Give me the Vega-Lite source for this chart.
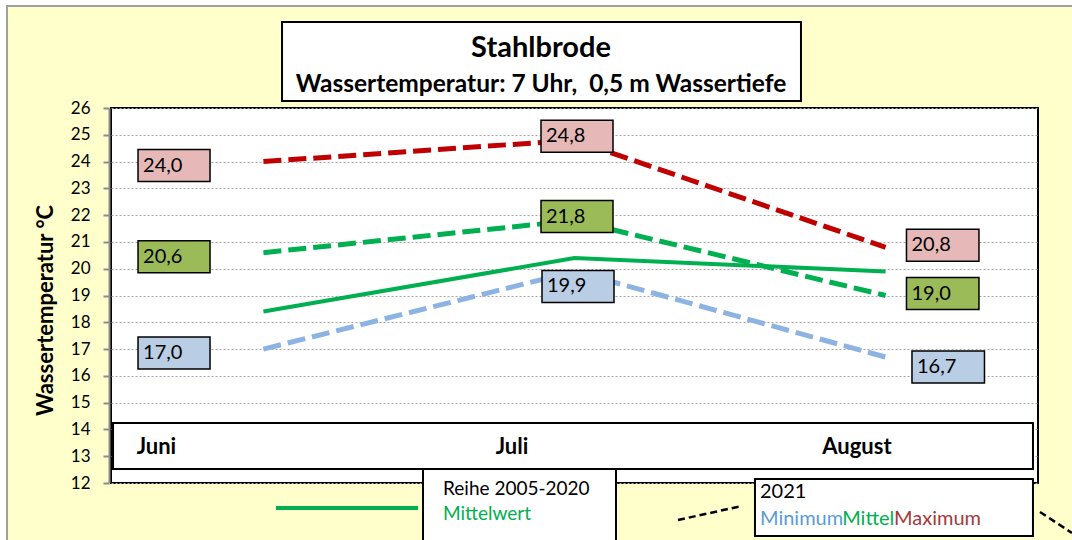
{
  "$schema": "https://vega.github.io/schema/vega-lite/v6.json",
  "width": 927,
  "height": 375,
  "autosize": {"type": "none"},
  "padding": {"left": 111, "top": 108, "right": 34, "bottom": 57},
  "background": "#FFFFCC",
  "resolve": {"axis": {"y": "independent", "x": "independent"}},
  "config": {
    "font": "Lato",
    "view": {"fill": "white", "stroke": "black", "strokeWidth": 2},
    "axisY": {
      "tickCount": 20,
      "format": "d",
      "grid": true, "gridColor": "#A6A6A6", "gridDash": [2, 2], "gridWidth": 1,
      "domainColor": "#8C8C8C", "domainWidth": 2,
      "tickColor": "#8C8C8C", "tickWidth": 2, "tickSize": 6,
      "labelFontSize": 17, "labelColor": "black", "labelPadding": 13, "labelOverlap": false,
      "titleFontSize": 22, "titleFontWeight": "bold", "titleColor": "black"
    },
    "locale": {"number": {"decimal": ",", "thousands": ".", "grouping": [3], "currency": ["", " €"]}}
  },
  "datasets": {
    "t": [
      {"month": "Juni", "series": "Reihe", "value": 18.4},
      {"month": "Juli", "series": "Reihe", "value": 20.4},
      {"month": "August", "series": "Reihe", "value": 19.9},
      {"month": "Juni", "series": "Maximum", "value": 24.0},
      {"month": "Juli", "series": "Maximum", "value": 24.8},
      {"month": "August", "series": "Maximum", "value": 20.8},
      {"month": "Juni", "series": "Mittel", "value": 20.6},
      {"month": "Juli", "series": "Mittel", "value": 21.8},
      {"month": "August", "series": "Mittel", "value": 19.0},
      {"month": "Juni", "series": "Minimum", "value": 17.0},
      {"month": "Juli", "series": "Minimum", "value": 19.9},
      {"month": "August", "series": "Minimum", "value": 16.7}
    ]
  },
  "layer": [
    {
      "data": {"name": "t"},
      "transform": [{"filter": "datum.series == 'Reihe'"}],
      "mark": {"type": "line", "stroke": "#00B050", "strokeWidth": 4},
      "encoding": {
        "x": {"field": "month", "type": "ordinal", "sort": ["Juni", "Juli", "August"], "scale": {"type": "point", "domain": ["Juni", "Juli", "August"], "padding": 0.49, "round": false}, "axis": null},
        "y": {
          "field": "value", "type": "quantitative",
          "scale": {"domain": [12, 26], "nice": false, "zero": false},
          "axis": {
            "title": "Wassertemperatur °C",
            "values": [12, 13, 14, 15, 16, 17, 18, 19, 20, 21, 22, 23, 24, 25, 26],
            "tickCount": 20,
            "offset": 2,
            "titleAngle": 270, "titleX": -64, "titleY": 202, "titleAlign": "center", "titleBaseline": "middle"
          }
        }
      }
    },
    {
      "data": {"values": [{}]},
      "mark": {"type": "rect", "fill": "white", "xOffset": -270, "x2Offset": -256.4},
      "encoding": {
        "x": {"datum": "Juni", "type": "ordinal", "axis": null},
        "x2": {"datum": "Juni"},
        "y": {"datum": 31, "type": "quantitative", "axis": null},
        "y2": {"datum": 8}
      }
    },
    {
      "data": {"values": [{}]},
      "mark": {"type": "rect", "fill": "white", "xOffset": -270, "x2Offset": 220},
      "encoding": {
        "x": {"datum": "Juni", "type": "ordinal", "axis": null},
        "x2": {"datum": "August"},
        "y": {"datum": 31, "type": "quantitative", "axis": null},
        "y2": {"datum": 29.808}
      }
    },
    {
      "data": {"values": [{}]},
      "mark": {"type": "rect", "fill": "transparent", "stroke": "#A0A0A0", "strokeWidth": 2, "xOffset": -256.4, "x2Offset": 220},
      "encoding": {
        "x": {"datum": "Juni", "type": "ordinal", "axis": null},
        "x2": {"datum": "August"},
        "y": {"datum": 29.808, "type": "quantitative", "axis": null},
        "y2": {"datum": 8}
      }
    },
    {
      "data": {"values": [{}]},
      "mark": {"type": "rect", "fill": "white", "stroke": "black", "strokeWidth": 2, "xOffset": 18.6, "x2Offset": -84.6},
      "encoding": {
        "x": {"datum": "Juni", "type": "ordinal", "axis": null},
        "x2": {"datum": "August"},
        "y": {"datum": 29.211, "type": "quantitative", "axis": null},
        "y2": {"datum": 26.261}
      }
    },
    {
      "data": {"values": [{}]},
      "mark": {"type": "text", "text": "Stahlbrode", "fontSize": 29, "fontWeight": "bold", "align": "center", "baseline": "alphabetic", "dx": -33.5, "color": "black"},
      "encoding": {
        "x": {"datum": "Juli", "type": "ordinal", "axis": null},
        "y": {"datum": 27.904, "type": "quantitative", "axis": null}
      }
    },
    {
      "data": {"values": [{}]},
      "mark": {"type": "text", "text": "Wassertemperatur: 7 Uhr, \u00a00,5 m Wassertiefe", "fontSize": 24.5, "fontWeight": "bold", "align": "center", "baseline": "alphabetic", "dx": -33.5, "color": "black"},
      "encoding": {
        "x": {"datum": "Juli", "type": "ordinal", "axis": null},
        "y": {"datum": 26.597, "type": "quantitative", "axis": null}
      }
    },
    {
      "data": {"name": "t"},
      "transform": [{"filter": "datum.series != 'Reihe'"}],
      "mark": {"type": "line", "strokeWidth": 5, "strokeDash": [18, 7]},
      "encoding": {
        "x": {"field": "month", "type": "ordinal", "sort": ["Juni", "Juli", "August"], "axis": null},
        "y": {"field": "value", "type": "quantitative", "axis": null},
        "stroke": {"field": "series", "type": "nominal", "scale": {"domain": ["Maximum", "Mittel", "Minimum"], "range": ["#C00000", "#00B050", "#8DB3E2"]}, "legend": null}
      }
    },
    {
      "data": {"values": [{}]},
      "mark": {"type": "rect", "fill": "white", "stroke": "black", "strokeWidth": 2, "xOffset": -150.4, "x2Offset": 147.4},
      "encoding": {
        "x": {"datum": "Juni", "type": "ordinal", "axis": null},
        "x2": {"datum": "August"},
        "y": {"datum": 14.24, "type": "quantitative", "axis": null},
        "y2": {"datum": 12.523}
      }
    },
    {
      "data": {"values": [{}]},
      "mark": {"type": "text", "text": "Juni", "fontSize": 22, "fontWeight": "bold", "align": "center", "baseline": "middle", "dx": -107, "color": "black"},
      "encoding": {
        "x": {"datum": "Juni", "type": "ordinal", "axis": null},
        "y": {"datum": 13.344, "type": "quantitative", "axis": null}
      }
    },
    {
      "data": {"values": [{}]},
      "mark": {"type": "text", "text": "Juli", "fontSize": 22, "fontWeight": "bold", "align": "center", "baseline": "middle", "dx": -62.5, "color": "black"},
      "encoding": {
        "x": {"datum": "Juli", "type": "ordinal", "axis": null},
        "y": {"datum": 13.344, "type": "quantitative", "axis": null}
      }
    },
    {
      "data": {"values": [{}]},
      "mark": {"type": "text", "text": "August", "fontSize": 22, "fontWeight": "bold", "align": "center", "baseline": "middle", "dx": -28.6, "color": "black"},
      "encoding": {
        "x": {"datum": "August", "type": "ordinal", "axis": null},
        "y": {"datum": 13.344, "type": "quantitative", "axis": null}
      }
    },
    {
      "data": {"values": [{}]},
      "mark": {"type": "rect", "fill": "white", "stroke": "black", "strokeWidth": 2, "xOffset": -151.5, "x2Offset": 41.5},
      "encoding": {
        "x": {"datum": "Juli", "type": "ordinal", "axis": null},
        "x2": {"datum": "Juli"},
        "y": {"datum": 12.523, "type": "quantitative", "axis": null},
        "y2": {"datum": 8}
      }
    },
    {
      "data": {"values": [{}]},
      "mark": {"type": "text", "text": "Reihe 2005-2020", "fontSize": 19, "align": "left", "baseline": "alphabetic", "dx": -131.5, "color": "black"},
      "encoding": {
        "x": {"datum": "Juli", "type": "ordinal", "axis": null},
        "y": {"datum": 11.552, "type": "quantitative", "axis": null}
      }
    },
    {
      "data": {"values": [{}]},
      "mark": {"type": "text", "text": "Mittelwert", "fontSize": 19, "align": "left", "baseline": "alphabetic", "dx": -131.5, "color": "#00B050"},
      "encoding": {
        "x": {"datum": "Juli", "type": "ordinal", "axis": null},
        "y": {"datum": 10.619, "type": "quantitative", "axis": null}
      }
    },
    {
      "data": {"values": [{}]},
      "mark": {"type": "rule", "color": "#00B050", "strokeWidth": 4, "xOffset": 12.6, "x2Offset": 154.6},
      "encoding": {
        "x": {"datum": "Juni", "type": "ordinal", "axis": null},
        "x2": {"datum": "Juni"},
        "y": {"datum": 11.067, "type": "quantitative", "axis": null}
      }
    },
    {
      "data": {"values": [{}]},
      "mark": {"type": "rect", "fill": "white", "stroke": "black", "strokeWidth": 2, "xOffset": -130.6, "x2Offset": 147.4},
      "encoding": {
        "x": {"datum": "August", "type": "ordinal", "axis": null},
        "x2": {"datum": "August"},
        "y": {"datum": 12.149, "type": "quantitative", "axis": null},
        "y2": {"datum": 10.021}
      }
    },
    {
      "data": {"values": [{}]},
      "mark": {"type": "text", "text": "2021", "fontSize": 20, "align": "left", "baseline": "alphabetic", "dx": -125.6, "color": "black"},
      "encoding": {
        "x": {"datum": "August", "type": "ordinal", "axis": null},
        "y": {"datum": 11.44, "type": "quantitative", "axis": null}
      }
    },
    {
      "data": {"values": [{}]},
      "mark": {"type": "text", "text": "Minimum", "fontSize": 20, "align": "left", "baseline": "alphabetic", "dx": -125.6, "color": "#5B9BD5"},
      "encoding": {
        "x": {"datum": "August", "type": "ordinal", "axis": null},
        "y": {"datum": 10.432, "type": "quantitative", "axis": null}
      }
    },
    {
      "data": {"values": [{}]},
      "mark": {"type": "text", "text": "Mittel", "fontSize": 20, "align": "left", "baseline": "alphabetic", "dx": -43.4, "color": "#00B050"},
      "encoding": {
        "x": {"datum": "August", "type": "ordinal", "axis": null},
        "y": {"datum": 10.432, "type": "quantitative", "axis": null}
      }
    },
    {
      "data": {"values": [{}]},
      "mark": {"type": "text", "text": "Maximum", "fontSize": 20, "align": "left", "baseline": "alphabetic", "dx": 8.4, "color": "#A5393B"},
      "encoding": {
        "x": {"datum": "August", "type": "ordinal", "axis": null},
        "y": {"datum": 10.432, "type": "quantitative", "axis": null}
      }
    },
    {
      "data": {"values": [{}]},
      "mark": {"type": "rule", "color": "black", "strokeWidth": 2.5, "strokeDash": [7, 4], "xOffset": 103.5, "x2Offset": 167.5},
      "encoding": {
        "x": {"datum": "Juli", "type": "ordinal", "axis": null},
        "x2": {"datum": "Juli"},
        "y": {"datum": 10.619, "type": "quantitative", "axis": null},
        "y2": {"datum": 11.142}
      }
    },
    {
      "data": {"values": [{}]},
      "mark": {"type": "rule", "color": "black", "strokeWidth": 2.5, "strokeDash": [7, 4], "xOffset": 154.4, "x2Offset": 186.4},
      "encoding": {
        "x": {"datum": "August", "type": "ordinal", "axis": null},
        "x2": {"datum": "August"},
        "y": {"datum": 10.918, "type": "quantitative", "axis": null},
        "y2": {"datum": 10.134}
      }
    },
    {
      "data": {"name": "t"},
      "transform": [{"filter": "datum.month == 'Juni' && datum.series != 'Reihe'"}],
      "layer": [
        {
          "mark": {"type": "rect", "stroke": "black", "strokeWidth": 1.5, "xOffset": -125.4, "x2Offset": -53.4, "yOffset": -12, "y2Offset": 20},
          "encoding": {
            "x": {"field": "month", "type": "ordinal", "axis": null},
            "x2": {"field": "month"},
            "y": {"field": "value", "type": "quantitative", "axis": null},
            "y2": {"field": "value"},
            "fill": {"field": "series", "type": "nominal", "scale": {"domain": ["Maximum", "Mittel", "Minimum"], "range": ["#E6B9B8", "#9BBB59", "#B9CDE5"]}, "legend": null}
          }
        },
        {
          "mark": {"type": "text", "align": "left", "baseline": "middle", "dx": -120.4, "dy": 4, "fontSize": 20, "color": "black"},
          "encoding": {
            "x": {"field": "month", "type": "ordinal", "axis": null},
            "y": {"field": "value", "type": "quantitative", "axis": null},
            "text": {"field": "value", "type": "quantitative", "format": ".1f"}
          }
        }
      ]
    },
    {
      "data": {"name": "t"},
      "transform": [{"filter": "datum.month == 'Juli' && datum.series != 'Reihe' && datum.series != 'Minimum'"}],
      "layer": [
        {
          "mark": {"type": "rect", "stroke": "black", "strokeWidth": 1.5, "xOffset": -33.5, "x2Offset": 38.5, "yOffset": -20, "y2Offset": 12},
          "encoding": {
            "x": {"field": "month", "type": "ordinal", "axis": null},
            "x2": {"field": "month"},
            "y": {"field": "value", "type": "quantitative", "axis": null},
            "y2": {"field": "value"},
            "fill": {"field": "series", "type": "nominal", "legend": null}
          }
        },
        {
          "mark": {"type": "text", "align": "left", "baseline": "middle", "dx": -28.5, "dy": -4, "fontSize": 20, "color": "black"},
          "encoding": {
            "x": {"field": "month", "type": "ordinal", "axis": null},
            "y": {"field": "value", "type": "quantitative", "axis": null},
            "text": {"field": "value", "type": "quantitative", "format": ".1f"}
          }
        }
      ]
    },
    {
      "data": {"name": "t"},
      "transform": [{"filter": "datum.month == 'Juli' && datum.series == 'Minimum'"}],
      "layer": [
        {
          "mark": {"type": "rect", "stroke": "black", "strokeWidth": 1.5, "xOffset": -32.5, "x2Offset": 39.5, "yOffset": -1, "y2Offset": 31},
          "encoding": {
            "x": {"field": "month", "type": "ordinal", "axis": null},
            "x2": {"field": "month"},
            "y": {"field": "value", "type": "quantitative", "axis": null},
            "y2": {"field": "value"},
            "fill": {"field": "series", "type": "nominal", "legend": null}
          }
        },
        {
          "mark": {"type": "text", "align": "left", "baseline": "middle", "dx": -27.5, "dy": 15, "fontSize": 20, "color": "black"},
          "encoding": {
            "x": {"field": "month", "type": "ordinal", "axis": null},
            "y": {"field": "value", "type": "quantitative", "axis": null},
            "text": {"field": "value", "type": "quantitative", "format": ".1f"}
          }
        }
      ]
    },
    {
      "data": {"name": "t"},
      "transform": [{"filter": "datum.month == 'August' && datum.series != 'Reihe' && datum.series != 'Minimum'"}],
      "layer": [
        {
          "mark": {"type": "rect", "stroke": "black", "strokeWidth": 1.5, "xOffset": 20.9, "x2Offset": 93.4, "yOffset": -18, "y2Offset": 14},
          "encoding": {
            "x": {"field": "month", "type": "ordinal", "axis": null},
            "x2": {"field": "month"},
            "y": {"field": "value", "type": "quantitative", "axis": null},
            "y2": {"field": "value"},
            "fill": {"field": "series", "type": "nominal", "legend": null}
          }
        },
        {
          "mark": {"type": "text", "align": "left", "baseline": "middle", "dx": 25.9, "dy": -2, "fontSize": 20, "color": "black"},
          "encoding": {
            "x": {"field": "month", "type": "ordinal", "axis": null},
            "y": {"field": "value", "type": "quantitative", "axis": null},
            "text": {"field": "value", "type": "quantitative", "format": ".1f"}
          }
        }
      ]
    },
    {
      "data": {"name": "t"},
      "transform": [{"filter": "datum.month == 'August' && datum.series == 'Minimum'"}],
      "layer": [
        {
          "mark": {"type": "rect", "stroke": "black", "strokeWidth": 1.5, "xOffset": 26.4, "x2Offset": 98.9, "yOffset": -6, "y2Offset": 26},
          "encoding": {
            "x": {"field": "month", "type": "ordinal", "axis": null},
            "x2": {"field": "month"},
            "y": {"field": "value", "type": "quantitative", "axis": null},
            "y2": {"field": "value"},
            "fill": {"field": "series", "type": "nominal", "legend": null}
          }
        },
        {
          "mark": {"type": "text", "align": "left", "baseline": "middle", "dx": 31.4, "dy": 10, "fontSize": 20, "color": "black"},
          "encoding": {
            "x": {"field": "month", "type": "ordinal", "axis": null},
            "y": {"field": "value", "type": "quantitative", "axis": null},
            "text": {"field": "value", "type": "quantitative", "format": ".1f"}
          }
        }
      ]
    }
  ]
}
